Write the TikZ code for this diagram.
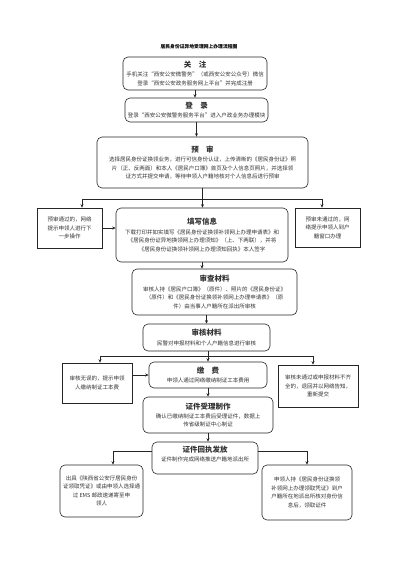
\documentclass[tikz,border=0pt]{standalone}
\usepackage{fontspec}
\setmainfont{Noto Sans CJK SC}
\usetikzlibrary{arrows.meta}
\newcommand\bt[1]{{\fontsize{7.5}{9}\selectfont\bfseries #1}}
\tikzset{
  boxbase/.style={draw=black!85, line width=0.6pt, align=center, inner sep=0pt, text=black!80,
    font=\fontsize{5.5}{8.4}\selectfont},
  rbox/.style={boxbase, rounded corners=5pt},
  sbox/.style={boxbase},
  arr/.style={-{Stealth[length=3.5pt,width=3pt]}, line width=0.6pt, draw=black!85},
  ln/.style={line width=0.6pt, draw=black!85},
}
\begin{document}
\begin{tikzpicture}[x=1pt,y=-1pt]
\fill[white] (0,0) rectangle (400,565);
\useasboundingbox (0,0) rectangle (400,565);

\node[font=\fontsize{4.8}{6}\selectfont\bfseries] (title) at (199,47) {居民身份证异地受理网上办理流程图};

\node[rbox, minimum width=144pt, minimum height=33pt] (gz) at (195,73.5)
  {\bt{关\quad 注}\\[1pt]手机关注“西安公安微警务”（或西安公安公众号）微信\\登录“西安公安政务服务网上平台”并完成注册};

\node[rbox, minimum width=143pt, minimum height=24pt] (dl) at (196.5,110)
  {\bt{登\quad 录}\\[0.5pt]登录“西安公安微警务服务平台”进入户政业务办理模块};

\node[rbox, minimum width=211pt, minimum height=51pt] (ys) at (202.5,162.5)
  {\bt{预\quad 审}\\[1pt]选择居民身份证换领业务，进行可信身份认证，上传清晰的《居民身份证》照\\
   片（正、反两面）和本人《居民户口簿》首页及个人信息页照片，并选择领\\
   证方式并提交申请，等待申领人户籍地核对个人信息后进行预审};

\node[sbox, minimum width=65pt, minimum height=40pt] (lb) at (69.5,228)
  {预审通过的，网络\\提示申领人进行下\\一步操作};
\node[sbox, minimum width=65pt, minimum height=39pt] (rb) at (327.5,227.5)
  {预审未通过的，网\\络提示申领人到户\\籍窗口办理};

\node[rbox, minimum width=172pt, minimum height=54pt] (tx) at (202,235)
  {\bt{填写信息}\\[1pt]下载打印并如实填写《居民身份证换领补领网上办理申请表》和\\
   《居民身份证异地换领网上办理须知》（上、下两联），并将\\
   《居民身份证换领补领网上办理须知回执》本人签字};

\node[rbox, minimum width=165pt, minimum height=46pt] (sc) at (214.5,292)
  {\bt{审查材料}\\[1pt]审核人持《居民户口簿》（原件）、照片的《居民身份证》\\
   （原件）和《居民身份证换领补领网上办理申请表》（原\\
   件）由当事人户籍所在派出所审核};

\node[rbox, minimum width=127pt, minimum height=27pt] (sh) at (206.5,337.5)
  {\bt{审核材料}\\[1pt]民警对申报材料和个人户籍信息进行审核};

\node[sbox, minimum width=70pt, minimum height=40pt] (lb2) at (97,383)
  {审核无误的，提示申领\\人缴纳制证工本费};
\node[rbox, minimum width=118pt, minimum height=26pt] (jf) at (208,375)
  {\bt{缴\quad 费}\\[1pt]申领人通过网络缴纳制证工本费用};
\node[sbox, minimum width=80pt, minimum height=42pt] (rb2) at (318,386)
  {审核未通过或申报材料不齐\\全的，退回并以网络告知，\\重新提交};

\node[rbox, minimum width=130pt, minimum height=36pt] (zj) at (208,415)
  {\bt{证件受理制作}\\[1pt]确认已缴纳制证工本费后受理证件，数据上\\传省级制证中心制证};

\node[rbox, minimum width=106pt, minimum height=32pt] (hz) at (205,458)
  {\bt{证件回执发放}\\[1pt]证件制作完成网络推送户籍地派出所\\ \mbox{}};

\node[rbox, minimum width=83pt, minimum height=52pt] (lb3) at (101.5,491)
  {出具《陕西省公安厅居民身份\\证领取凭证》或由申领人选择通\\过 EMS 邮政速递寄至申\\领人};
\node[rbox, minimum width=90pt, minimum height=55pt] (rb3) at (307,492.5)
  {申领人持《居民身份证换领\\补领网上办理领取凭证》到户\\户籍所在地派出所核对身份信\\息后，领取证件};

% connectors
\draw[arr] (gz.south) -- (gz.south |- dl.north);
\draw[arr] (dl.south) -- (dl.south |- ys.north);

\coordinate (t1) at (ys.south |- 0,199);
\draw[ln] (ys.south) -- (t1);
\draw[arr] (t1) -- (t1 |- tx.north);
\draw[arr] (t1) -| ([xshift=12.5pt]lb.north);
\draw[arr] (t1) -| ([xshift=-5.5pt]rb.north);
\draw[arr] (lb.east) -- (lb.east -| tx.west);

\draw[arr] (tx.south) -- (tx.south |- sc.north);
\draw[arr] (sh.north |- sc.south) -- (sh.north);

\coordinate (t2) at (jf.north |- 0,356);
\draw[ln] (jf.north |- sh.south) -- (t2);
\draw[arr] (t2) -- (jf.north);
\draw[arr] (t2) -| ([xshift=3pt]lb2.north);
\draw[arr] (t2) -| ([xshift=-5pt]rb2.north);
\draw[arr] (lb2.east |- jf.west) -- (jf.west);

\draw[arr] (jf.south) -- (jf.south |- zj.north);
\draw[arr] (zj.south) -- (zj.south |- hz.north);

\coordinate (t3) at (hz.west |- 0,451);
\coordinate (t4) at (hz.east |- 0,451);
\draw[arr] (t3) -| ([xshift=11.5pt]lb3.north);
\draw[arr] (t4) -| (rb3.north);
\end{tikzpicture}
\end{document}
